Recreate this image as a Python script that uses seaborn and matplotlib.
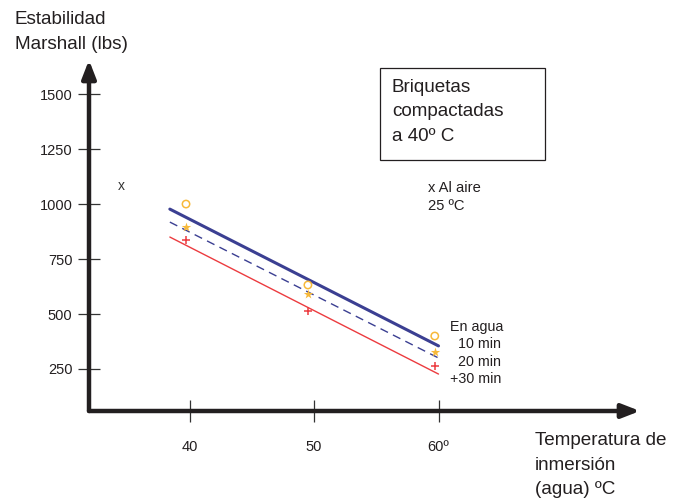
import matplotlib
matplotlib.use("Agg")
import matplotlib.pyplot as plt
import seaborn as sns
import pandas as pd

# Valores
temp_lineas = [38.4, 60.0]
linea_10min = [977, 355]
linea_20min = [918, 300]
linea_30min = [850, 227]

temp_puntos = [39.7, 49.5, 59.7]
puntos_10min = [1000, 632, 400]
puntos_20min = [895, 591, 327]
puntos_30min = [836, 514, 264]

aire_temp = 34.5
aire_valor = 1080

x_ticks = [40, 50, 60]
x_tick_labels = ["40", "50", "60º"]
y_ticks = [250, 500, 750, 1000, 1250, 1500]

sns.set_theme(style="white")
plt.rcParams["font.family"] = ["Liberation Sans", "DejaVu Sans"]

azul = "#3b3f92"
rojo = "#ec3b3f"
naranja = "#f7b93a"
negro = "#231f20"

fig = plt.figure(figsize=(6.79, 5.04), dpi=100)
ax = fig.add_axes([89 / 679, 1 - 411 / 504, 551 / 679, 351 / 504])
ax.set_xlim(31.9, 76.2)
ax.set_ylim(59, 1655)

lineas = pd.DataFrame({"t": temp_lineas, "a": linea_10min, "b": linea_20min, "c": linea_30min})
sns.lineplot(data=lineas, x="t", y="a", ax=ax, color=azul, lw=2.2)
sns.lineplot(data=lineas, x="t", y="b", ax=ax, color=azul, lw=1.0, linestyle=(0, (6, 4)))
sns.lineplot(data=lineas, x="t", y="c", ax=ax, color=rojo, lw=1.0)

ax.scatter(temp_puntos, puntos_10min, marker="o", s=28, facecolors="none", edgecolors=naranja, linewidths=1.1, zorder=3)
ax.scatter(temp_puntos, puntos_20min, marker="*", s=50, color=naranja, linewidths=0, zorder=3)
ax.scatter(temp_puntos, puntos_30min, marker="+", s=36, color=rojo, linewidths=1.1, zorder=3)
ax.text(aire_temp, aire_valor, "x", fontsize=10, ha="center", va="center", color="#333333")

for s in ax.spines.values():
    s.set_visible(False)

# ejes con flecha
for destino in [(0, 1), (1, 0)]:
    ax.annotate("", xy=destino, xytext=(0, 0), xycoords="axes fraction",
                arrowprops=dict(arrowstyle="-|>,head_width=0.35,head_length=0.9", color=negro, lw=3.2,
                                shrinkA=0, shrinkB=0))

ax.set_xticks(x_ticks)
ax.set_xticklabels(x_tick_labels)
ax.set_yticks(y_ticks)
ax.set_yticklabels([str(v) for v in y_ticks])
ax.tick_params(axis="both", direction="inout", length=16, width=0.9, color="#333333",
               labelsize=10.5, labelcolor=negro, bottom=True, left=True)
ax.tick_params(axis="x", pad=13)
ax.tick_params(axis="y", pad=4)
ax.set_xlabel("")
ax.set_ylabel("")

fig.text(15 / 679, 1 - 32 / 504, "Estabilidad\nMarshall (lbs)", fontsize=13.6, ha="left", va="center",
         linespacing=1.55, color=negro)
fig.text(535 / 679, 1 - 465 / 504, "Temperatura de\ninmersión\n(agua) ºC", fontsize=13.6, ha="left",
         va="center", linespacing=1.55, color=negro)
fig.text(392 / 679, 1 - 112 / 504, "Briquetas\ncompactadas\na 40º C", fontsize=13.6, ha="left",
         va="center", linespacing=1.55, color=negro)
fig.add_artist(plt.Rectangle((380 / 679, 1 - 160 / 504), 165 / 679, 92 / 504, transform=fig.transFigure,
                             fill=False, edgecolor=negro, lw=0.9))
fig.text(428 / 679, 1 - 197 / 504, "x Al aire\n25 ºC", fontsize=10.6, ha="left", va="center",
         linespacing=1.4, color=negro)
fig.text(450 / 679, 1 - 353 / 504, "En agua\n  10 min\n  20 min\n+30 min", fontsize=10.3, ha="left",
         va="center", linespacing=1.32, color=negro)

fig.savefig("out.png", dpi=100)
